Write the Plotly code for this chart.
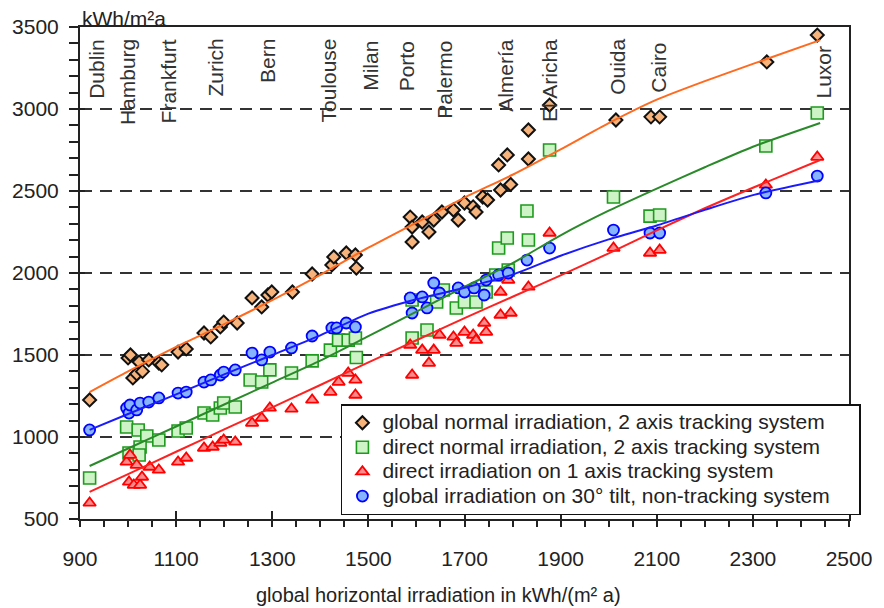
import plotly.graph_objects as go

# ---------------- data ----------------
# global normal irradiation, 2 axis tracking system (diamonds)
gn_x = [920, 1000, 1005, 1010, 1018, 1023, 1030, 1043, 1064, 1070, 1104, 1121, 1158, 1172, 1192, 1199, 1227,
        1258, 1278, 1291, 1299, 1342, 1383, 1424, 1428, 1454, 1473, 1475,
        1587, 1591, 1591, 1612, 1626, 1636, 1653, 1677, 1687, 1700, 1718, 1724, 1738, 1748, 1775, 1796,
        1771, 1789, 1833, 1833, 1877, 2015, 2088, 2106, 2329, 2434]
gn_y = [1226, 1482, 1500, 1360, 1385, 1457, 1400, 1470, 1451, 1440, 1518, 1537, 1634, 1610, 1671, 1701, 1695,
        1848, 1793, 1866, 1884, 1884, 1994, 2049, 2098, 2122, 2110, 2030,
        2341, 2280, 2189, 2311, 2250, 2323, 2372, 2384, 2323, 2427, 2403, 2372, 2463, 2445, 2506, 2540,
        2659, 2720, 2872, 2695, 3024, 2933, 2952, 2952, 3287, 3451]

# direct normal irradiation, 2 axis tracking system (squares)
dn_x = [920, 997, 1021, 1039, 1002, 1025, 1023, 1064, 1104, 1121, 1158, 1176, 1192, 1199, 1223,
        1254, 1278, 1295, 1340, 1383, 1421, 1438, 1458, 1473, 1475,
        1591, 1622, 1591, 1656, 1642, 1683, 1700, 1724, 1745, 1771, 1789, 1791, 1830, 1833, 1765,
        1877, 2010, 2086, 2106, 2327, 2434]
dn_y = [750, 1061, 1043, 1006, 902, 939, 890, 982, 1037, 1055, 1146, 1134, 1177, 1207, 1183,
        1348, 1335, 1409, 1390, 1464, 1530, 1591, 1591, 1604, 1485,
        1604, 1652, 1835, 1896, 1823, 1787, 1823, 1823, 1884, 2152, 2213, 2018, 2378, 2201, 1988,
        2750, 2463, 2347, 2354, 2774, 2976]

# direct irradiation on 1 axis tracking system (triangles)
d1_x = [920, 997, 1004, 1018, 1002, 1012, 1025, 1029, 1045, 1064, 1104, 1121, 1158, 1176, 1192, 1199, 1223,
        1258, 1278, 1295, 1340, 1383, 1421, 1438, 1458, 1473, 1473,
        1591, 1587, 1612, 1626, 1636, 1648, 1677, 1683, 1700, 1718, 1724, 1741, 1745, 1775, 1796,
        1775, 1791, 1833, 1877, 2010, 2086, 2106, 2327, 2434]
d1_y = [598, 848, 890, 829, 726, 707, 707, 756, 817, 799, 848, 872, 933, 939, 963, 982, 970,
        1085, 1116, 1177, 1171, 1226, 1274, 1335, 1390, 1348, 1256,
        1378, 1561, 1530, 1451, 1530, 1622, 1610, 1573, 1640, 1622, 1591, 1695, 1640, 1744, 1756,
        1884, 1957, 1915, 2244, 2152, 2122, 2140, 2537, 2707]

# global irradiation on 30° tilt, non-tracking system (circles)
gt_x = [920, 997, 1002, 1004, 1018, 1025, 1043, 1064, 1104, 1121, 1158, 1172, 1192, 1199, 1223,
        1258, 1278, 1295, 1340, 1383, 1424, 1434, 1454, 1473,
        1587, 1591, 1612, 1622, 1636, 1648, 1687, 1700, 1720, 1745, 1741, 1771, 1791, 1830, 1877,
        2010, 2086, 2106, 2327, 2434]
gt_y = [1043, 1177, 1146, 1195, 1165, 1207, 1213, 1238, 1268, 1274, 1335, 1348, 1378, 1396, 1409,
        1512, 1470, 1518, 1543, 1616, 1665, 1665, 1695, 1671,
        1848, 1756, 1854, 1787, 1939, 1878, 1909, 1884, 1909, 1957, 1866, 1988, 2000, 2079, 2152,
        2262, 2244, 2244, 2488, 2591]

# fitted curves
fit_x = [920, 1000, 1100, 1200, 1300, 1400, 1500, 1600, 1700, 1800, 1900, 2000, 2100, 2200, 2300, 2440]
fit_gn = [1274, 1400, 1550, 1688, 1834, 1989, 2154, 2308, 2460, 2599, 2754, 2914, 3057, 3170, 3275, 3420]
fit_dn = [823, 930, 1064, 1198, 1332, 1466, 1615, 1765, 1915, 2060, 2230, 2380, 2515, 2645, 2770, 2915]
fit_d1 = [665, 774, 910, 1046, 1181, 1317, 1455, 1590, 1725, 1855, 1985, 2120, 2260, 2395, 2520, 2689]
fit_gt = [1043, 1140, 1260, 1382, 1500, 1620, 1752, 1840, 1910, 1990, 2105, 2205, 2290, 2385, 2475, 2565]

series_names = [
    "global normal irradiation, 2 axis tracking system",
    "direct normal irradiation, 2 axis tracking system",
    "direct irradiation on 1 axis tracking system",
    "global irradiation on 30° tilt, non-tracking system",
]

cities = ["Dublin", "Hamburg", "Frankfurt", "Zurich", "Bern", "Toulouse", "Milan", "Porto",
          "Palermo", "Almería", "El Aricha", "Ouida", "Cairo", "Luxor"]
city_x = [933, 998, 1084, 1180, 1289, 1415, 1503, 1579, 1657, 1785, 1877, 2017, 2102, 2446]
city_drop = [11, 11, 11, 11, 11, 11, 13, 13, 13, 11, 11, 11, 15, 18]

x_title = "global horizontal irradiation in kWh/(m² a)"
y_title = "kWh/m²a"

FONT = "Liberation Sans, Arial, sans-serif"


def legend_label(s):
    # larger visible text inside a tighter legend row spacing
    return '<span style="font-size:21px">' + s + '</span>'


fig = go.Figure()

# scatter markers
fig.add_trace(go.Scatter(x=gn_x, y=gn_y, mode="markers", name=legend_label(series_names[0]),
                         marker=dict(symbol="diamond", size=10, color="#f6b47c",
                                     line=dict(color="#111", width=2))))
fig.add_trace(go.Scatter(x=dn_x, y=dn_y, mode="markers", name=legend_label(series_names[1]),
                         marker=dict(symbol="square", size=12, color="#cdf3c6",
                                     line=dict(color="#1e9a1e", width=1.6))))
fig.add_trace(go.Scatter(x=d1_x, y=d1_y, mode="markers", name=legend_label(series_names[2]),
                         marker=dict(symbol="triangle-up", size=11, color="#ff8c8c",
                                     line=dict(color="#ff0000", width=1.8))))
fig.add_trace(go.Scatter(x=gt_x, y=gt_y, mode="markers", name=legend_label(series_names[3]),
                         marker=dict(symbol="circle", size=11, color="#86b4ff",
                                     line=dict(color="#0000ff", width=1.8))))

# fitted lines
for fy, col in [(fit_gn, "#ff6a1f"), (fit_dn, "#2a8a2a"), (fit_d1, "#ff2020"), (fit_gt, "#1a1aff")]:
    fig.add_trace(go.Scatter(x=fit_x, y=fy, mode="lines", showlegend=False, hoverinfo="skip",
                             line=dict(color=col, width=2, shape="spline", smoothing=0.6)))

# helper trace for inner (crossing) major ticks
fig.add_trace(go.Scatter(x=[], y=[], xaxis="x2", yaxis="y2", showlegend=False))

# city labels
for name, cx, dy in zip(cities, city_x, city_drop):
    fig.add_annotation(x=cx, xref="x", y=1, yref="paper", text=name, showarrow=False,
                       textangle=-90, xanchor="center", yanchor="top", yshift=-dy + 1,
                       font=dict(family=FONT, size=21, color="#333"))

fig.add_annotation(x=0, xref="paper", y=1, yref="paper", text=y_title, showarrow=False,
                   xanchor="left", yanchor="bottom", yshift=-5,
                   font=dict(family=FONT, size=21, color="#222"))
fig.add_annotation(x=0.466, xref="paper", y=-0.155, yref="paper", text=x_title, showarrow=False,
                   xanchor="center", yanchor="middle",
                   font=dict(family=FONT, size=20, color="#222"))

axis_col = "#222"
fig.update_layout(
    width=884, height=608,
    margin=dict(l=77, r=26, t=27, b=89),
    paper_bgcolor="white", plot_bgcolor="white",
    font=dict(family=FONT, size=21, color="#222"),
    showlegend=True,
    legend=dict(x=0.3393, y=0.2337, xanchor="left", yanchor="top", orientation="h",
                bordercolor="#111", borderwidth=1.5, bgcolor="white",
                entrywidth=472, entrywidthmode="pixels",
                font=dict(family=FONT, size=16.5, color="#222"), tracegroupgap=0),
    xaxis=dict(range=[900, 2500], tick0=900, dtick=200, ticks="outside", ticklen=6, tickwidth=1.5,
               tickcolor=axis_col, showline=True, linewidth=2, linecolor=axis_col, mirror=True,
               showgrid=False, zeroline=False, ticklabelstandoff=14,
               tickfont=dict(family=FONT, size=21, color="#222"),
               minor=dict(tick0=900, dtick=50, ticks="outside", ticklen=6, tickwidth=1.5,
                          tickcolor=axis_col, showgrid=False)),
    yaxis=dict(range=[500, 3500], tick0=500, dtick=500, ticks="outside", ticklen=9, tickwidth=1.5,
               tickcolor=axis_col, showline=True, linewidth=2, linecolor=axis_col, mirror=True,
               showgrid=True, gridcolor="#333", gridwidth=2, griddash="12px,8px",
               zeroline=False, ticklabelstandoff=6,
               tickfont=dict(family=FONT, size=21, color="#222"),
               minor=dict(tick0=500, dtick=100, ticks="outside", ticklen=9, tickwidth=1.5,
                          tickcolor=axis_col, showgrid=False)),
    xaxis2=dict(range=[900, 2500], overlaying="x", anchor="y2", side="bottom", tick0=900, dtick=200,
                ticks="inside", ticklen=8, tickwidth=1.5, tickcolor=axis_col,
                showticklabels=False, showgrid=False, showline=False, zeroline=False),
    yaxis2=dict(range=[500, 3500], overlaying="y", anchor="x2", side="left", tick0=500, dtick=500,
                ticks="inside", ticklen=5, tickwidth=1.5, tickcolor=axis_col,
                showticklabels=False, showgrid=False, showline=False, zeroline=False),
)

fig.write_html("out.html")
